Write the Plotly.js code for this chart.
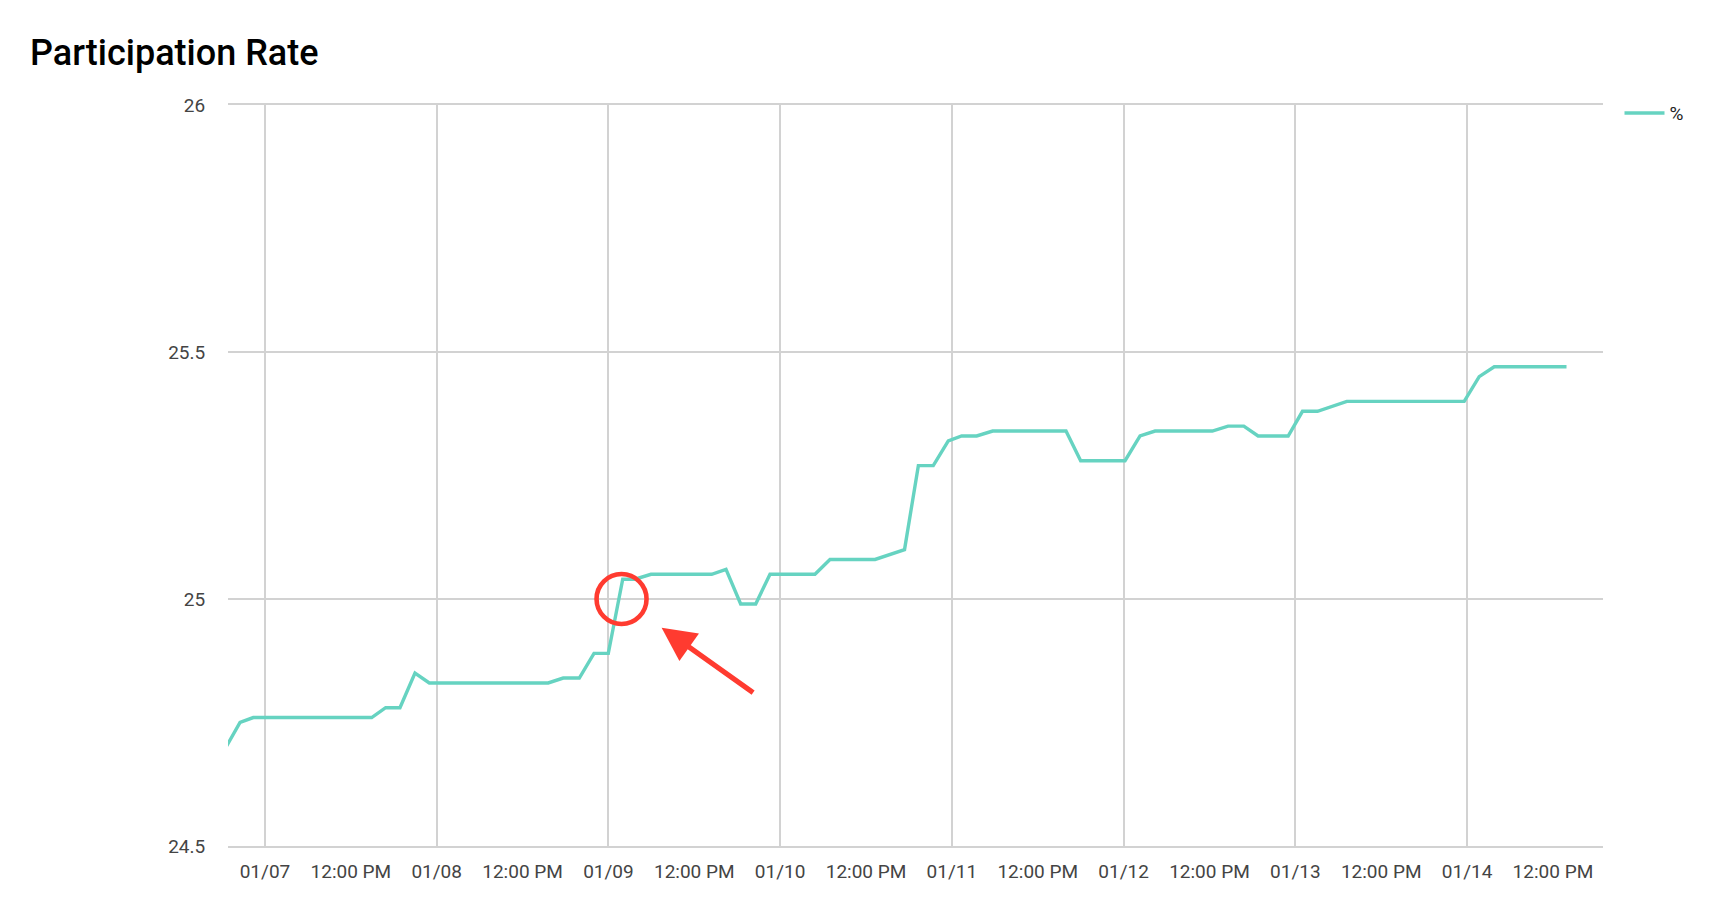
<!DOCTYPE html>
<html>
<head>
<meta charset="utf-8">
<script src="https://cdn.plot.ly/plotly-3.0.1.min.js"></script>
<style>html,body{margin:0;padding:0;background:#fff;}#chart{width:1718px;height:906px;}</style>
</head>
<body>
<div id="chart"></div>
<script>
// Data (timestamps, participation rate %)
const times = [
  "2021-01-06 18:33", "2021-01-06 20:31", "2021-01-06 22:22", "2021-01-07 14:55",
  "2021-01-07 16:52", "2021-01-07 18:52", "2021-01-07 20:58", "2021-01-07 22:58",
  "2021-01-08 15:35", "2021-01-08 17:41", "2021-01-08 19:56", "2021-01-08 21:59",
  "2021-01-08 23:59", "2021-01-09 02:00", "2021-01-09 03:43", "2021-01-09 05:57",
  "2021-01-09 14:26", "2021-01-09 16:26", "2021-01-09 18:29", "2021-01-09 20:35",
  "2021-01-09 22:35", "2021-01-10 04:52", "2021-01-10 06:58", "2021-01-10 13:16",
  "2021-01-10 17:23", "2021-01-10 19:19", "2021-01-10 21:24", "2021-01-10 23:30",
  "2021-01-11 01:22", "2021-01-11 03:28", "2021-01-11 05:42", "2021-01-11 15:57",
  "2021-01-11 18:00", "2021-01-12 00:12", "2021-01-12 02:18", "2021-01-12 04:24",
  "2021-01-12 12:24", "2021-01-12 14:36", "2021-01-12 16:48", "2021-01-12 18:48",
  "2021-01-12 23:00", "2021-01-13 01:00", "2021-01-13 03:06", "2021-01-13 07:12",
  "2021-01-13 23:36", "2021-01-14 01:42", "2021-01-14 03:48", "2021-01-14 13:54"
];
const rates = [
  24.70, 24.75, 24.76, 24.76,
  24.78, 24.78, 24.85, 24.83,
  24.83, 24.84, 24.84, 24.89,
  24.89, 25.04, 25.04, 25.05,
  25.05, 25.06, 24.99, 24.99,
  25.05, 25.05, 25.08, 25.08,
  25.10, 25.27, 25.27, 25.32,
  25.33, 25.33, 25.34, 25.34,
  25.28, 25.28, 25.33, 25.34,
  25.34, 25.35, 25.35, 25.33,
  25.33, 25.38, 25.38, 25.40,
  25.40, 25.45, 25.47, 25.47
];
const seriesName = "%";
const dayTicks = ["2021-01-07", "2021-01-08", "2021-01-09", "2021-01-10",
                  "2021-01-11", "2021-01-12", "2021-01-13", "2021-01-14"];
const dayLabels = ["01/07", "01/08", "01/09", "01/10", "01/11", "01/12", "01/13", "01/14"];
const noonLabel = "12:00 PM";
const yTicks = [24.5, 25, 25.5, 26];
const yTickLabels = ["24.5", "25", "25.5", "26"];
const xRange = ["2021-01-06 18:50", "2021-01-14 19:00"];
const yRange = [24.5, 26];
// Highlight annotation (circle + arrow) from the reference
const circleAt = {x: "2021-01-09 01:50", y: 25.0};
const arrowTip = {x: "2021-01-09 07:26", y: 24.942};

const tickVals = [], tickText = [];
dayTicks.forEach((d, i) => {
  tickVals.push(d); tickText.push(dayLabels[i]);
  tickVals.push(d + " 12:00"); tickText.push(noonLabel);
});

const FONT = "Roboto, 'Noto Sans', sans-serif";
const GRID = "#d2d2d2";
const GRIDW = 2;
const trace = {
  x: times, y: rates, type: "scatter", mode: "lines", name: seriesName,
  line: {color: "#66d3c1", width: 3.4}, showlegend: true, hoverinfo: "x+y"
};
// invisible companion trace so the day-gridline overlay axis gets drawn
const gridCarrier = {
  x: times, y: rates, xaxis: "x2", yaxis: "y", type: "scatter", mode: "lines",
  line: {color: "rgba(0,0,0,0)", width: 0}, showlegend: false, hoverinfo: "skip"
};

const layout = {
  width: 1718, height: 906,
  margin: {l: 228, r: 115, t: 105, b: 60},
  paper_bgcolor: "#ffffff", plot_bgcolor: "#ffffff",
  font: {family: FONT, color: "#444444", size: 19},
  title: {
    text: "Participation Rate",
    font: {family: FONT, size: 36, color: "#000000", weight: 500},
    x: 30 / 1718, xref: "container", xanchor: "left",
    y: 1 - 52 / 906, yref: "container", yanchor: "middle"
  },
  xaxis: {
    type: "date", range: xRange, tickvals: tickVals, ticktext: tickText,
    showgrid: false, zeroline: false,
    showline: true, mirror: true, linecolor: GRID, linewidth: GRIDW,
    ticks: "outside", ticklen: 7, tickcolor: "rgba(0,0,0,0)",
    tickfont: {family: FONT, size: 19, color: "#444444"}
  },
  xaxis2: {
    type: "date", range: xRange, overlaying: "x", anchor: "y",
    tickvals: dayTicks, showticklabels: false, ticks: "",
    showgrid: true, gridcolor: GRID, gridwidth: GRIDW,
    zeroline: false, showline: false
  },
  yaxis: {
    range: yRange, tickvals: yTicks, ticktext: yTickLabels,
    showgrid: true, gridcolor: GRID, gridwidth: GRIDW,
    zeroline: false, showline: false,
    ticks: "outside", ticklen: 18, tickcolor: "rgba(0,0,0,0)",
    tickfont: {family: FONT, size: 19, color: "#444444"}
  },
  showlegend: true,
  legend: {
    x: 1.012, xanchor: "left", y: 0.989, yanchor: "middle",
    itemwidth: 40,
    font: {family: FONT, size: 19, color: "#222222"},
    bgcolor: "rgba(0,0,0,0)"
  },
  shapes: [{
    type: "circle", xref: "x", yref: "y",
    xsizemode: "pixel", ysizemode: "pixel",
    xanchor: circleAt.x, yanchor: circleAt.y,
    x0: -25, x1: 25, y0: -25, y1: 25,
    line: {color: "#ff3b30", width: 4.6}
  }],
  annotations: [{
    x: arrowTip.x, y: arrowTip.y, xref: "x", yref: "y",
    text: "", showarrow: true, ax: 93, ay: 66,
    arrowhead: 2, arrowsize: 1.3, arrowwidth: 5.2, arrowcolor: "#ff3b30",
    standoff: 0, startstandoff: 0
  }]
};

Plotly.newPlot("chart", [gridCarrier, trace], layout, {displayModeBar: false, staticPlot: true});
</script>
</body>
</html>
